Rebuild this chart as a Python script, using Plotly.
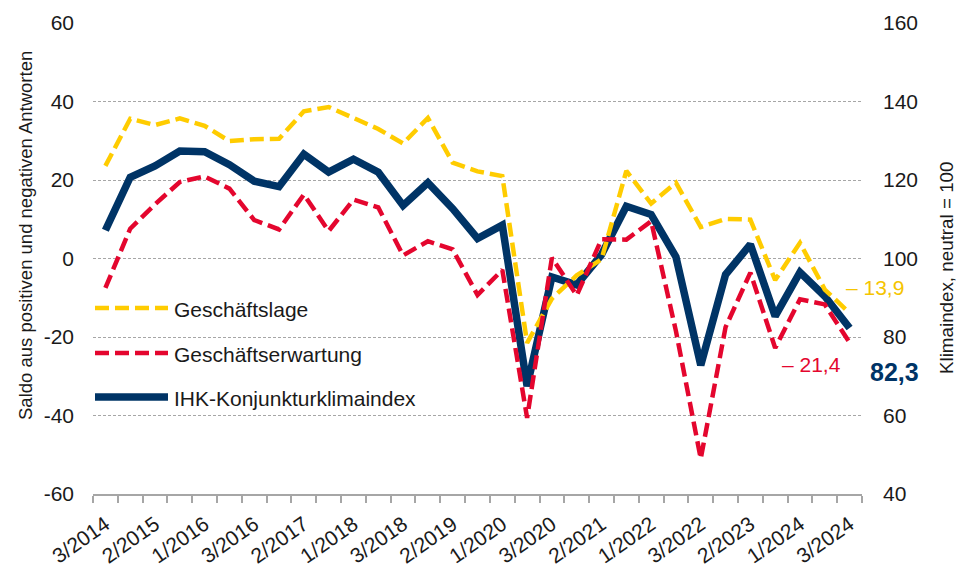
import plotly.graph_objects as go

quarters = ["3/2014", "1/2015", "2/2015", "3/2015", "1/2016", "2/2016", "3/2016",
            "1/2017", "2/2017", "3/2017", "1/2018", "2/2018", "3/2018", "1/2019",
            "2/2019", "3/2019", "1/2020", "2/2020", "3/2020", "1/2021", "2/2021",
            "3/2021", "1/2022", "2/2022", "3/2022", "1/2023", "2/2023", "3/2023",
            "1/2024", "2/2024", "3/2024"]
tick_labels = ["3/2014", "2/2015", "1/2016", "3/2016", "2/2017", "1/2018", "3/2018",
               "2/2019", "1/2020", "3/2020", "2/2021", "1/2022", "3/2022", "2/2023",
               "1/2024", "3/2024"]
left_ticks = [-60, -40, -20, 0, 20, 40, 60]
left_tick_text = ["-60", "-40", "-20", "0", "20", "40", "60"]
right_ticks = [40, 60, 80, 100, 120, 140, 160]

# Saldo (left axis)
lage = [23.6, 35.6, 34.0, 35.7, 33.8, 29.9, 30.4, 30.5, 37.5, 38.6, 35.8, 33.0, 29.3,
        35.8, 24.4, 22.2, 21.0, -21.5, -10.2, -4.3, -0.2, 22.3, 14.0, 19.3, 8.0, 10.1,
        9.9, -5.5, 4.0, -7.9, -13.9]
erwartung = [-7.5, 7.6, 13.8, 19.5, 20.9, 17.8, 9.8, 7.4, 16.3, 7.0, 15.0, 13.0, 0.8,
             4.4, 2.3, -9.3, -2.9, -40.6, 0.2, -9.4, 4.9, 4.8, 9.5, -18.5, -51.0, -17.5,
             -3.6, -22.8, -10.4, -11.7, -21.4]
# Klimaindex (right axis)
klimaindex = [107.2, 120.7, 123.6, 127.4, 127.2, 123.9, 119.7, 118.3, 126.6, 122.0,
              125.3, 122.0, 113.5, 119.3, 112.7, 105.1, 108.5, 67.5, 95.3, 93.3, 101.0,
              113.3, 111.2, 100.4, 72.8, 95.9, 103.6, 85.3, 96.5, 90.4, 82.3]

names = ["Geschäftslage", "Geschäftserwartung", "IHK-Konjunkturklimaindex"]
left_title = "Saldo aus positiven und negativen Antworten"
right_title = "Klimaindex, neutral = 100"

NAVY = "#003466"
YELLOW = "#FFCC00"
RED = "#E4062E"
FONT = "Liberation Sans, Arial, sans-serif"
DASH = "14px,6px"

fig = go.Figure()
fig.add_trace(go.Scatter(x=quarters, y=klimaindex, name=names[2], mode="lines",
                         line=dict(color=NAVY, width=7.5), yaxis="y", showlegend=False))
fig.add_trace(go.Scatter(x=quarters, y=lage, name=names[0], mode="lines",
                         line=dict(color=YELLOW, width=4.5, dash=DASH), yaxis="y2",
                         showlegend=False))
fig.add_trace(go.Scatter(x=quarters, y=erwartung, name=names[1], mode="lines",
                         line=dict(color=RED, width=4.5, dash=DASH), yaxis="y2",
                         showlegend=False))

# page body has an 8px margin
OFF = 8
W, H = 956, 562
L, R, T, B = 85, 102, 15, 76
pw, ph = W - L - R, H - T - B


def px(xs):
    return (xs - OFF - L) / pw


def py(ys):
    return (H - B - (ys - OFF)) / ph


shapes = []
annotations = []
legend_rows = [(names[0], YELLOW, DASH, 4.5, 308),
               (names[1], RED, DASH, 4.5, 353),
               (names[2], NAVY, "solid", 7.5, 397)]
for name, col, dash, w, yp in legend_rows:
    shapes.append(dict(type="line", xref="paper", yref="paper", x0=px(95), x1=px(168),
                       y0=py(yp), y1=py(yp), line=dict(color=col, width=w, dash=dash)))
    annotations.append(dict(text=name, xref="paper", yref="paper", x=px(172), y=py(yp + 1),
                            xanchor="left", yanchor="middle", showarrow=False,
                            font=dict(family=FONT, size=21, color="#1a1a1a")))


def fmt(v):
    return f"{abs(v):.1f}".replace(".", ",")


annotations.append(dict(text="– " + fmt(lage[-1]), xref="paper", yref="paper",
                        x=px(844), y=py(287), xanchor="left", yanchor="middle",
                        showarrow=False, font=dict(family=FONT, size=21, color="#F5C400")))
annotations.append(dict(text="– " + fmt(erwartung[-1]), xref="paper", yref="paper",
                        x=px(780), y=py(364), xanchor="left", yanchor="middle",
                        showarrow=False, font=dict(family=FONT, size=21, color=RED)))
annotations.append(dict(text="<b>" + fmt(klimaindex[-1]) + "</b>", xref="paper",
                        yref="paper", x=px(868), y=py(372), xanchor="left",
                        yanchor="middle", showarrow=False,
                        font=dict(family=FONT, size=25, color=NAVY)))
# axis titles
annotations.append(dict(text=left_title, xref="paper", yref="paper", x=px(25), y=py(236),
                        xanchor="center", yanchor="middle", textangle=-90,
                        showarrow=False, font=dict(family=FONT, size=18.5,
                                                   color="#1a1a1a")))
annotations.append(dict(text=right_title, xref="paper", yref="paper", x=px(946),
                        y=py(268), xanchor="center", yanchor="middle", textangle=-90,
                        showarrow=False, font=dict(family=FONT, size=18.8,
                                                   color="#1a1a1a")))

fig.update_layout(
    width=W, height=H,
    margin=dict(l=L, r=R, t=T, b=B, autoexpand=False),
    paper_bgcolor="white", plot_bgcolor="white",
    font=dict(family=FONT, size=21, color="#1a1a1a"),
    showlegend=False,
    xaxis=dict(type="category", range=[-0.5, len(quarters) - 0.5],
               tickmode="array", tickvals=quarters,
               ticktext=[q if q in tick_labels else "" for q in quarters],
               tickson="boundaries", ticks="outside", ticklen=7, tickwidth=2,
               tickcolor="#A6A6A6", showline=True, linecolor="#A6A6A6", linewidth=2,
               showgrid=False, tickangle=-35, tickfont=dict(size=21),
               ticklabelstandoff=8),
    yaxis=dict(side="right", range=[40, 160], tickmode="array", tickvals=right_ticks,
               showgrid=False, zeroline=False, showline=False, ticks="",
               ticklabelstandoff=20, tickfont=dict(size=21)),
    yaxis2=dict(side="left", overlaying="y", range=[-60, 60], tickmode="array",
                tickvals=left_ticks, ticktext=left_tick_text,
                showgrid=True, gridcolor="#A6A6A6", gridwidth=1, griddash="3px,2px",
                zeroline=False, showline=False, ticks="", ticklabelstandoff=18,
                tickfont=dict(size=21)),
    shapes=shapes,
    annotations=annotations,
)

fig.write_html("out.html")
